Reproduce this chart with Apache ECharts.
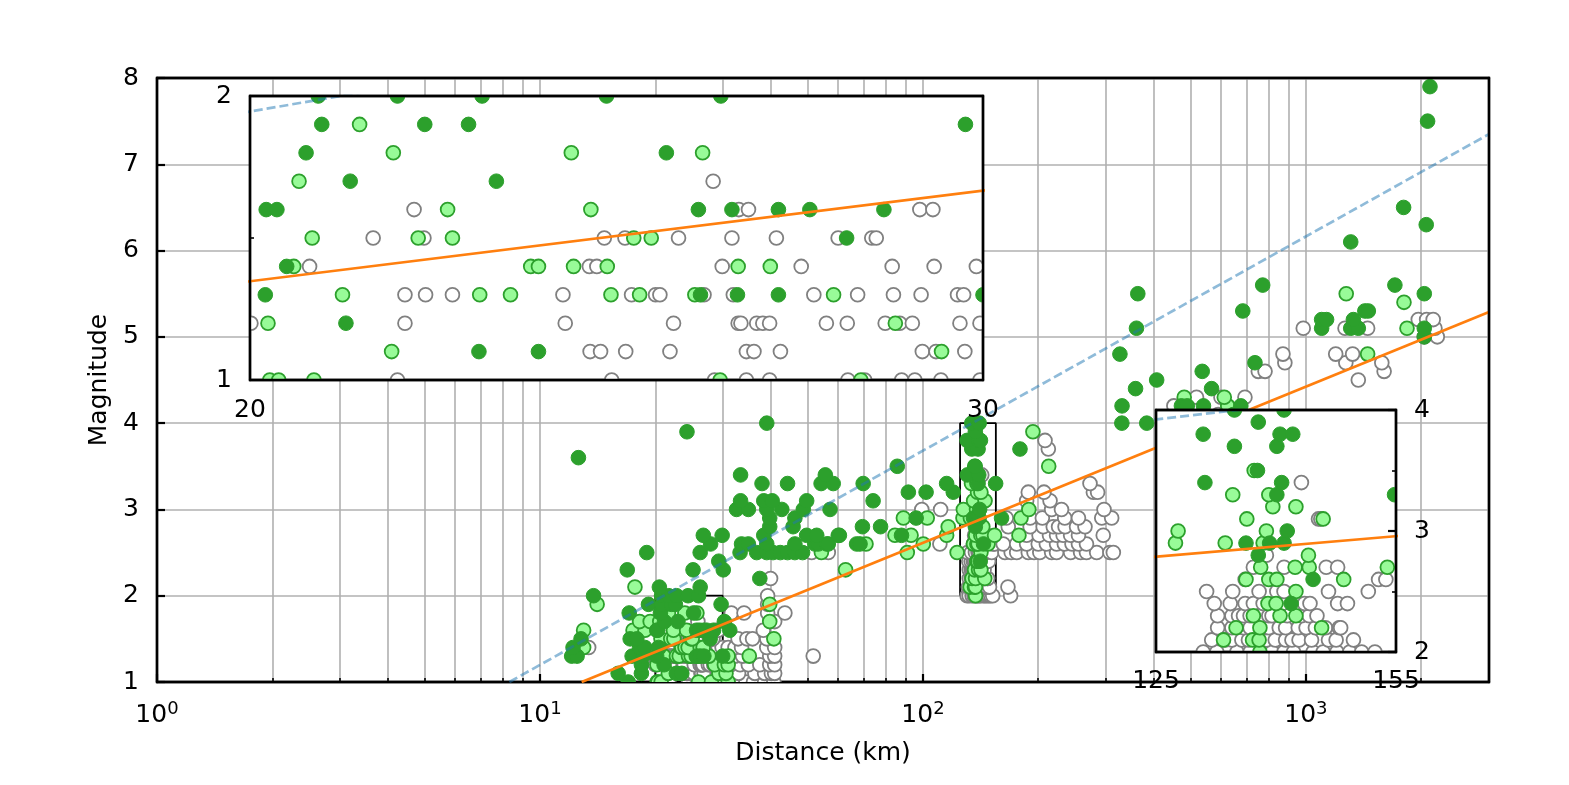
<!DOCTYPE html>
<html><head><meta charset="utf-8">
<style>html,body{margin:0;padding:0;background:#fff}#c{width:1569px;height:785px}</style>
<script src="https://cdn.jsdelivr.net/npm/echarts@6/dist/echarts.min.js"></script>
</head><body><div id="c"></div>
<script>
// rows: [magnitude, [distances in km]]
const grayRows = [
[1.0,[21.70,24.43,25.86,26.32,26.66,27.84,28.10,28.68,28.89,29.31,29.95,32.9,34.5,36.1,38.6,40.8]],
[1.1,[24.14,24.28,24.62,25.23,26.32,26.43,26.82,29.01,29.23,29.70,30.5,33,36.4,38.6,40.2,41]],
[1.2,[20.01,21.79,23.81,25.28,26.20,26.24,26.47,26.56,26.66,27.51,27.83,28.42,28.65,28.85,29.62,29.95,31.5,33.3,35,37.5,39.8,41]],
[1.3,[21.79,22.04,22.37,23.78,24.70,25.03,25.09,25.71,26.13,27.32,27.99,28.55,28.99,29.58,29.68,32.3,33.8,39.8,41,51.7]],
[1.4,[13.4,20.67,24.13,24.23,25.97,27.13,28.53,29.20,29.89,31,32.3,33.6,39.1,41]],
[1.5,[21.41,22.02,24.33,24.61,25.35,26.11,26.76,27.69,28.21,28.28,32.9,34.7,35.9,39.1]],
[1.6,[21.90,26.21,26.35,28.97,29.18,38.3]],
[1.7,[25.84,41]],
[1.8,[31.6,34.1,39.3,43.6]],
[1.9,[39.3]],
[2.0,[39.3,130.4,132,134.4,136,137.6,138.7,140.2,141.4,143.9,145.2,147,148.7,150.3,152.1,169.4]],
[2.1,[131.4,133,133.8,135,135.8,138,139.1,140.4,141.2,142.1,143.7,145.9,146.9,149.2,166.7]],
[2.2,[40,132.1,133.8,135.2,136,137.8,138.3,139.6,140.4,142,143,144.2,145.5,147.3,147.5]],
[2.3,[132.1,133.8,134.6,135.2,136,137.4,138.3,138.7,140.6,142.4,143.4,144.4]],
[2.4,[131.7,133.6,135.4,136.4,137.6,140,142.8,143.5,147.1,148.4]],
[2.5,[51.2,56.6,130.8,133.9,137.1,139.3,140.2,145.9,151.2,163.7,170,175.7,188.4,195,201.9,216.8,223.3,243,258,267.3,284.2,307.7,314.1]],
[2.6,[110.7,135.4,152.6,153.6,162,175.7,186.5,200,210,223.3,234,245,254.7,267.3]],
[2.7,[136.4,140.2,145.6,147.1,186.5,201,214,223.3,232.3,243,254.7,295.6]],
[2.8,[138,167,190.5,206,218.9,226,235,251.8,264.9]],
[2.9,[165,190.5,205,234.5,254.7,293,311]],
[3.0,[99.3,111.2,216.8,230,297]],
[3.1,[144.6,144.9,186.5,214.7]],
[3.2,[188.4,207,278.6,285.8]],
[3.3,[273]],
[3.4,[142.4]],
[3.7,[212.5]],
[3.8,[208.3]],
[4.1,[590]],
[4.2,[452]],
[4.3,[518,600,693]],
[4.5,[1370]],
[4.6,[751,782,1600]],
[4.7,[881,1271,1578]],
[4.8,[871,1196,1324]],
[5.0,[2037,2203]],
[5.1,[984,1265,1449,2172]],
[5.2,[1965,2066,2149]]
];
const lightRows = [
[1.0,[20.22,20.32,20.72,25.94,28.04,31]],
[1.1,[21.63,29.32,30.6]],
[1.2,[20.20,28.58,30.3,31]],
[1.3,[21.05,22.71,23.10,24.42,24.81,25.58,27.62,31,35.2]],
[1.4,[13,20.49,23.36,23.46,23.92,24.37,26.20,26.67]],
[1.5,[20.70,21.95,22.37,24.73,24.97,40.8]],
[1.6,[13,17.5,18.8,22.31,24.15]],
[1.7,[18.2,19.4,20.55,39.8]],
[1.8,[21.65,23.89,25.69]],
[1.9,[14.1,21.25,39.8]],
[2.0,[137.2]],
[2.1,[17.7,132.8,136.3,137.1]],
[2.2,[134.3,137.2,145]],
[2.3,[62.8,136.4,139.7,141.7]],
[2.4,[138.2,139.2]],
[2.5,[54.3,91,122.8,141.7]],
[2.6,[71,100.2,135.5,138.3,139.3,147.9]],
[2.7,[84.5,93.1,115.3,137.3,141.6,143.4,153.8,178.1]],
[2.8,[116.4,143.3]],
[2.9,[88.9,102.6,127.2,133,137.6,180.3]],
[3.0,[127.5,138,189]],
[3.1,[135.6,145.2]],
[3.2,[138.8,141.7]],
[3.3,[133.9,138.3]],
[3.5,[136.5,213]],
[3.9,[193.7]],
[4.2,[625]],
[4.3,[481,612]],
[4.8,[1449]],
[5.1,[1836]],
[5.4,[1803]],
[5.5,[1274]]
];
const darkRows = [
[1.0,[17]],
[1.1,[16,18.4,22.70,23.46]],
[1.2,[18.4,21.09]],
[1.3,[12.1,12.5,17.4,18.6,20.17,25.66,26.19,26.79,30]],
[1.4,[12.2,18.2,18.8,20.41]],
[1.5,[12.8,17.2,17.9,27.82]],
[1.6,[20.18,20.30,25.63,26.11,26.79,27.26,28.40,31.3]],
[1.7,[21.14,22.92,30.3]],
[1.8,[17.1,20.63,25.18]],
[1.9,[19.2,20.81,22.03,22.57,29.71]],
[2.0,[13.8,20.77,21.70,22.74,24.36,25.95]],
[2.1,[20.5,26.2]],
[2.2,[37.5]],
[2.3,[16.9,25.1,30.1]],
[2.4,[29.3,141.1]],
[2.5,[19,26.2,33.3,36.8,39.1,40.6,42.4,44.3,46.3,48.5]],
[2.6,[27.9,33.6,35,39.1,46.3,52.2,53.3,56.1,56.6,67.1,68.5,143.9]],
[2.7,[26.7,29.9,38.4,49.7,52.8,60.1,60.5,87.9]],
[2.8,[39.8,45.8,69.5,77.5,137]],
[2.9,[39.8,46.3,96,135.5,138.4,140.2,160.4]],
[3.0,[32.6,35,39.1,42.8,48.7,57.2,140.6]],
[3.1,[33.4,38.4,40.4,49.7,74.1]],
[3.2,[91.6,101.9,120]],
[3.3,[38,44.3,54.2,58.3,69.8,115.3,139.3,154.8]],
[3.4,[33.4,55.6,130.6,139.9]],
[3.5,[85.7,136.9]],
[3.6,[12.6]],
[3.7,[134.1,139.3,179.2]],
[3.8,[130.4,139.7,141.3]],
[3.9,[24.2,137]],
[4.0,[39.1,134.1,140.2,330.6,384,751,869]],
[4.1,[646]],
[4.2,[331,473,490,540,676]],
[4.4,[359,567]],
[4.5,[407.6]],
[4.6,[536]],
[4.7,[736]],
[4.8,[326.8]],
[5.0,[2037]],
[5.1,[361,1099,1309,1370,2037]],
[5.2,[1099,1132,1330]],
[5.3,[684,1425,1455]],
[5.5,[363.9,2037]],
[5.6,[771,1707]],
[6.1,[1309]],
[6.3,[2061]],
[6.5,[1799]],
[7.5,[2078]],
[7.9,[2108]]
];
const fitLine = [[12.85,1],[3006,5.288]];
const upperLine = [[8.32,1],[3006,7.35]];
const boxA = [[20,1],[30,1],[30,2],[20,2],[20,1]];
const boxB = [[125,2],[155,2],[155,4],[125,4],[125,2]];
const decadeTicks = [1,10,100,1000];
const minorTicks = [2,3,4,5,6,7,8,9,20,30,40,50,60,70,80,90,200,300,400,500,600,700,800,900,2000,3000];
const xLabel = 'Distance (km)', yLabel = 'Magnitude';

const FONT = 'DejaVu Sans', FS = 25;
const flat = rows => rows.flatMap(([m, ds]) => ds.map(d => [d, m]));
const gray = flat(grayRows), light = flat(lightRows), dark = flat(darkRows);

const dots = (data, fill, stroke, lw, r, xi, yi, z) => ({
  type:'custom', xAxisIndex:xi, yAxisIndex:yi, data, clip:true, silent:true, z, animation:false,
  encode:{x:0,y:1},
  renderItem(params, api){
    const p = api.coord([api.value(0), api.value(1)]);
    return {type:'circle', shape:{cx:p[0],cy:p[1],r}, style:{fill, stroke, lineWidth:lw}};
  }
});
const line = (data, color, w, type, xi, yi, z) => ({
  type:'line', xAxisIndex:xi, yAxisIndex:yi, data, showSymbol:false, symbol:'none', clip:true, silent:true, z, animation:false,
  lineStyle:{color, width:w, type, cap:'butt'}
});
const layers = (xi, yi, z) => [
  dots(gray,'#fff','#808080',1.8,6.9,xi,yi,z),
  dots(light,'#98fb98','#2ca02c',1.8,6.9,xi,yi,z+0.1),
  dots(dark,'#2ca02c','#2ca02c',1,7.3,xi,yi,z+0.2),
  line(upperLine,'rgba(31,119,180,0.5)',2.7,[9,4],xi,yi,z+0.3),
  line(fitLine,'#ff7f0e',2.7,'solid',xi,yi,z+0.4)
];
const blackLine = {show:true,onZero:false,lineStyle:{color:'#000',width:2.4}};
const gridLine = {show:true,lineStyle:{color:'#b0b0b0',width:1.6}};
const lbl = {fontFamily:FONT,fontSize:FS,color:'#000'};

const spine = (g, pos, scale) => Object.assign({gridIndex:g, position:pos, z:13, axisLine:blackLine,
  axisTick:{show:false}, axisLabel:{show:false}, splitLine:{show:false}}, scale);

const xAxes = [
 {type:'log',logBase:10,gridIndex:0,min:1,max:3006,position:'bottom',name:xLabel,nameLocation:'middle',nameGap:59,
  nameTextStyle:{fontFamily:FONT,fontSize:FS,color:'#000'},
  axisLine:blackLine,
  axisTick:{show:true,inside:true,length:8,lineStyle:{color:'#000',width:2.2},customValues:decadeTicks},
  axisLabel:Object.assign({},lbl,{show:true,margin:18,customValues:decadeTicks,hideOverlap:false,
    formatter:v=>'{b|10}{e|'+Math.round(Math.log10(v))+'}',
    rich:{b:{fontFamily:FONT,fontSize:FS,color:'#000'},e:{fontFamily:FONT,fontSize:18,color:'#000',padding:[0,0,12,0]}}}),
  splitLine:gridLine},
 {type:'log',logBase:10,gridIndex:0,min:1,max:3006,position:'bottom',
  axisLine:{show:false},
  axisTick:{show:true,inside:true,length:4,lineStyle:{color:'#000',width:1.6},customValues:minorTicks},
  axisLabel:{show:false},splitLine:gridLine},
 spine(0,'top',{type:'log',logBase:10,min:1,max:3006}),
 // inset A
 {type:'log',logBase:10,gridIndex:1,min:20,max:30,position:'bottom',z:13,axisLine:blackLine,axisTick:{show:false},
  axisLabel:Object.assign({},lbl,{margin:18,customValues:[20,30],showMinLabel:true,showMaxLabel:true,hideOverlap:false}),splitLine:{show:false}},
 spine(1,'top',{type:'log',logBase:10,min:20,max:30}),
 // inset B
 {type:'log',logBase:10,gridIndex:2,min:125,max:155,position:'bottom',z:13,axisLine:blackLine,axisTick:{show:false},
  axisLabel:Object.assign({},lbl,{margin:17,customValues:[125,155],showMinLabel:true,showMaxLabel:true,hideOverlap:false}),splitLine:{show:false}},
 spine(2,'top',{type:'log',logBase:10,min:125,max:155})
];
const yAxes = [
 {type:'value',gridIndex:0,min:1,max:8,interval:1,position:'left',name:yLabel,nameLocation:'middle',nameGap:44,
  nameTextStyle:{fontFamily:FONT,fontSize:FS,color:'#000'},
  axisLine:blackLine,axisTick:{show:true,inside:true,length:8,lineStyle:{color:'#000',width:2.2}},
  axisLabel:Object.assign({},lbl,{margin:18,padding:[10,0,0,0]}),splitLine:gridLine},
 spine(0,'right',{type:'value',min:1,max:8}),
 {type:'value',gridIndex:1,min:1,max:2,interval:1,position:'left',z:13,axisLine:blackLine,
  axisTick:{show:false,inside:true},minorTick:{show:true,splitNumber:2,length:4,lineStyle:{color:'#000',width:1.6}},
  axisLabel:Object.assign({},lbl,{margin:18,padding:[10,0,0,0]}),splitLine:{show:false}},
 spine(1,'right',{type:'value',min:1,max:2}),
 {type:'value',gridIndex:2,min:2,max:4,interval:1,position:'right',z:13,axisLine:blackLine,
  axisTick:{show:true,inside:true,length:8,lineStyle:{color:'#000',width:2.2}},
  minorTick:{show:true,splitNumber:2,length:4,lineStyle:{color:'#000',width:1.6}},
  axisLabel:Object.assign({},lbl,{margin:18,padding:[10,0,0,0]}),splitLine:{show:false}},
 spine(2,'left',{type:'value',min:2,max:4})
];
const series = [
  line(boxA,'#000',1.8,'solid',0,0,1),
  line(boxB,'#000',1.8,'solid',0,0,1),
  ...layers(0,0,2),
  ...layers(3,2,11),
  ...layers(5,4,11)
];
const chart = echarts.init(document.getElementById('c'), null, {renderer:'canvas'});
chart.setOption({
  animation:false, backgroundColor:'#fff',
  grid:[
    {left:157,top:78,width:1332,height:604,show:true,borderColor:'#000',borderWidth:2.4,backgroundColor:'#fff',containLabel:false},
    {left:250,top:96,width:733,height:284,show:true,z:10,borderColor:'#000',borderWidth:2.4,backgroundColor:'#fff',containLabel:false},
    {left:1156,top:410,width:240,height:242,show:true,z:10,borderColor:'#000',borderWidth:2.4,backgroundColor:'#fff',containLabel:false}
  ],
  xAxis:xAxes, yAxis:yAxes, series
});
</script></body></html>
